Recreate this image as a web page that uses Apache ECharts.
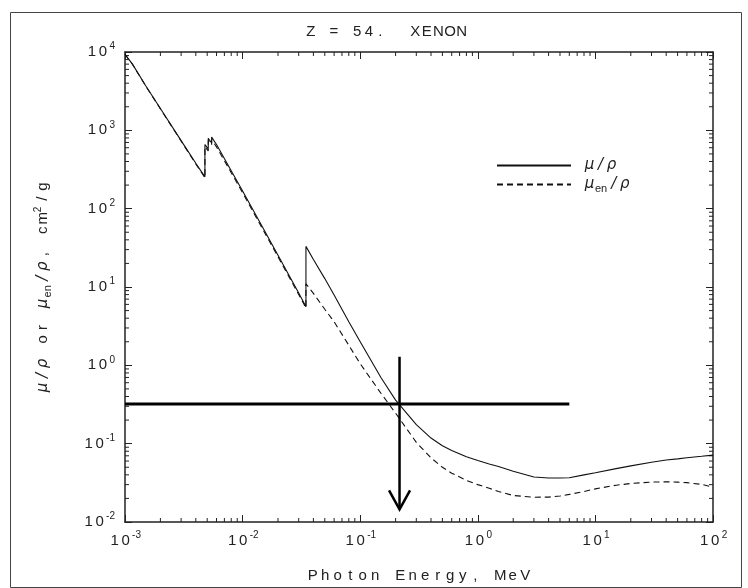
<!DOCTYPE html>
<html>
<head>
<meta charset="utf-8">
<script src="https://cdn.jsdelivr.net/npm/echarts@6/dist/echarts.min.js"></script>
<style>
  html, body { margin: 0; padding: 0; background: #fff; }
  #chart { width: 748px; height: 588px; }
</style>
</head>
<body>
<div id="chart"></div>
<script>
// photon energy, MeV (edges listed twice: below / above)
const energy = [0.001, 0.00107, 0.00115, 0.00115, 0.0015, 0.002, 0.003, 0.004,
  0.0047822, 0.0047822, 0.0051037, 0.0051037, 0.0054528, 0.0054528, 0.006, 0.008,
  0.01, 0.015, 0.02, 0.03, 0.0345614, 0.0345614, 0.04, 0.05, 0.06, 0.08, 0.1, 0.15,
  0.2, 0.3, 0.4, 0.5, 0.6, 0.8, 1.0, 1.25, 1.5, 2.0, 3.0, 4.0, 5.0, 6.0, 8.0, 10,
  15, 20, 30, 40, 50, 60, 80, 100];
// mu/rho, cm2/g
const muRho = [9400, 8150, 7100, 7350, 3700, 1900, 740, 380,
  255, 660, 580, 790, 690, 820, 660, 305,
  168, 56, 25.5, 8.4, 5.6, 33, 22.5, 12.8, 7.9, 3.6, 2.0, 0.70,
  0.36, 0.175, 0.118, 0.094, 0.082, 0.068, 0.061, 0.055, 0.051, 0.0445, 0.0375, 0.0365, 0.0365, 0.0368, 0.040, 0.0425,
  0.048, 0.052, 0.058, 0.062, 0.064, 0.066, 0.069, 0.0715];
// mu_en/rho, cm2/g
const muEnRho = [9370, 8120, 7070, 7310, 3680, 1880, 730, 372,
  248, 620, 545, 740, 650, 760, 615, 288,
  160, 53, 24.3, 8.0, 5.4, 11.0, 8.3, 5.2, 3.6, 1.8, 1.05, 0.44,
  0.245, 0.104, 0.066, 0.050, 0.042, 0.034, 0.030, 0.027, 0.0245, 0.0218, 0.0207, 0.0208, 0.0215, 0.0225, 0.0245, 0.0265,
  0.0295, 0.031, 0.0323, 0.0326, 0.0323, 0.0318, 0.0302, 0.0278];

// reading guide: horizontal at mu/rho = 0.32, arrow down at E = 0.216 MeV
const guideEnergy = 0.216;
const guideMu = 0.32;
const hLineEnergy = [0.001, 6.0];
const vLineMu = [1.29, 0.0145];

const xRange = [0.001, 100];
const yRange = [0.01, 10000];
const xDecades = [-3, -2, -1, 0, 1];
const yDecades = [-2, -1, 0, 1, 2, 3];
const minorSteps = [2, 3, 4, 5, 6, 7, 8, 9];

const muName = 'μ/ρ';
const muEnName = 'μen/ρ';

const FONT = 'Liberation Sans';
const INK = '#222';

function sp(str, style) {
  return Array.from(str).map((ch) => '{' + style + '|' + ch + '}').join('');
}
function powLabel(v) {
  const e = Math.round(Math.log10(v));
  return sp('10', 'b') + '{e|' + e + '}';
}

const labelRich = {
  b: { fontFamily: FONT, fontSize: 15, color: INK, width: 11, align: 'center' },
  e: { fontFamily: FONT, fontSize: 10, color: INK, padding: [0, 0, 11, 1] },
};

// minor ticks, 2..9 per decade, on all four sides
const minorTicks = [];
xDecades.forEach((d) => minorSteps.forEach((m) => minorTicks.push([m * Math.pow(10, d), 1, 0])));
yDecades.forEach((d) => minorSteps.forEach((m) => minorTicks.push([1, m * Math.pow(10, d), 1])));

const chart = echarts.init(document.getElementById('chart'));

const axisLine = { lineStyle: { color: INK, width: 1.5 } };
const axisTick = { inside: true, length: 7, lineStyle: { color: INK, width: 1 } };

const option = {
  animation: false,
  title: {
    text: sp('Z = 54.  XENON', 't'),
    left: 300,
    top: 19,
    textStyle: {
      fontWeight: 'normal',
      rich: { t: { fontFamily: FONT, fontSize: 15, fontWeight: 'normal', color: INK, width: 11.6, align: 'center' } },
    },
  },
  legend: {
    data: [muName, muEnName],
    orient: 'vertical',
    left: 491,
    top: 153,
    itemWidth: 74,
    itemHeight: 14,
    itemGap: 4,
    selectedMode: false,
    itemStyle: { opacity: 0 },
    formatter: (name) =>
      name === muName ? sp('μ/ρ', 'g') : sp('μ', 'g') + '{s|en}' + sp('/ρ', 'g'),
    textStyle: {
      padding: [0, 0, 0, 8],
      rich: {
        g: { fontFamily: 'DejaVu Sans', fontStyle: 'italic', fontSize: 15, color: INK, width: 11, align: 'center' },
        s: { fontFamily: FONT, fontSize: 11, color: INK, padding: [9, 1, 0, 0] },
      },
    },
  },
  grid: { left: 125, right: 35, top: 52, bottom: 66 },
  xAxis: [
    {
      type: 'log', logBase: 10, min: xRange[0], max: xRange[1], position: 'bottom',
      axisLine, axisTick, splitLine: { show: false },
      axisLabel: { margin: 8, formatter: powLabel, rich: labelRich },
      name: sp('Photon Energy, MeV', 'c'),
      nameLocation: 'middle', nameGap: 46,
      nameTextStyle: {
        rich: { c: { fontFamily: FONT, fontSize: 15, color: INK, width: 12.5, align: 'center' } },
      },
    },
    {
      type: 'log', logBase: 10, min: xRange[0], max: xRange[1], position: 'top',
      axisLine, axisTick, splitLine: { show: false }, axisLabel: { show: false },
    },
  ],
  yAxis: [
    {
      type: 'log', logBase: 10, min: yRange[0], max: yRange[1], position: 'left',
      axisLine, axisTick, splitLine: { show: false },
      axisLabel: { margin: 10, formatter: powLabel, rich: labelRich },
      name: sp('μ/ρ', 'g') + sp(' or ', 'c') + sp('μ', 'g') + '{s|en}' + sp('/ρ', 'g') +
        sp(', cm', 'c') + '{p|2}' + sp('/g', 'c'),
      nameLocation: 'middle', nameGap: 72,
      nameTextStyle: {
        rich: {
          c: { fontFamily: FONT, fontSize: 15, color: INK, width: 12, align: 'center' },
          g: { fontFamily: 'DejaVu Sans', fontStyle: 'italic', fontSize: 15, color: INK, width: 12, align: 'center' },
          s: { fontFamily: FONT, fontSize: 11, color: INK, padding: [9, 1, 0, 0] },
          p: { fontFamily: FONT, fontSize: 10, color: INK, padding: [0, 2, 10, 0] },
        },
      },
    },
    {
      type: 'log', logBase: 10, min: yRange[0], max: yRange[1], position: 'right',
      axisLine, axisTick, splitLine: { show: false }, axisLabel: { show: false },
    },
  ],
  graphic: [
    {
      type: 'rect', left: 8, top: 10, silent: true, z: -1,
      shape: { width: 731, height: 575 },
      style: { fill: 'none', stroke: '#444', lineWidth: 1 },
    },
  ],
  series: [
    {
      name: muName, type: 'line', symbol: 'none',
      data: energy.map((e, i) => [e, muRho[i]]),
      lineStyle: { color: '#111', width: 1.1 },
      itemStyle: { color: '#111' },
    },
    {
      name: muEnName, type: 'line', symbol: 'none',
      data: energy.map((e, i) => [e, muEnRho[i]]),
      lineStyle: { color: '#111', width: 1.1, type: [6, 4] },
      itemStyle: { color: '#111' },
    },
    {
      name: 'hguide', type: 'line', symbol: 'none', silent: true,
      data: hLineEnergy.map((e) => [e, guideMu]),
      lineStyle: { color: '#000', width: 3 },
    },
    {
      name: 'vguide', type: 'line', symbol: 'none', silent: true,
      data: vLineMu.map((m) => [guideEnergy, m]),
      lineStyle: { color: '#000', width: 2.5 },
    },
    {
      name: 'arrowhead', type: 'custom', silent: true,
      data: [[guideEnergy, vLineMu[1]]],
      renderItem: (params, api) => {
        const p = api.coord([api.value(0), api.value(1)]);
        return {
          type: 'polyline',
          shape: { points: [[p[0] - 10.5, p[1] - 19], [p[0], p[1]], [p[0] + 10.5, p[1] - 19]] },
          style: { stroke: '#000', lineWidth: 2.5, fill: 'none' },
        };
      },
    },
    {
      name: 'minorTicks', type: 'custom', silent: true, clip: false,
      data: minorTicks,
      renderItem: (params, api) => {
        const len = 4;
        const style = { stroke: INK, lineWidth: 1 };
        if (api.value(2) === 0) {
          const b = api.coord([api.value(0), yRange[0]]);
          const t = api.coord([api.value(0), yRange[1]]);
          return {
            type: 'group',
            children: [
              { type: 'line', shape: { x1: b[0], y1: b[1], x2: b[0], y2: b[1] - len }, style },
              { type: 'line', shape: { x1: t[0], y1: t[1], x2: t[0], y2: t[1] + len }, style },
            ],
          };
        }
        const l = api.coord([xRange[0], api.value(1)]);
        const r = api.coord([xRange[1], api.value(1)]);
        return {
          type: 'group',
          children: [
            { type: 'line', shape: { x1: l[0], y1: l[1], x2: l[0] + len, y2: l[1] }, style },
            { type: 'line', shape: { x1: r[0], y1: r[1], x2: r[0] - len, y2: r[1] }, style },
          ],
        };
      },
    },
  ],
};

chart.setOption(option);
</script>
</body>
</html>
